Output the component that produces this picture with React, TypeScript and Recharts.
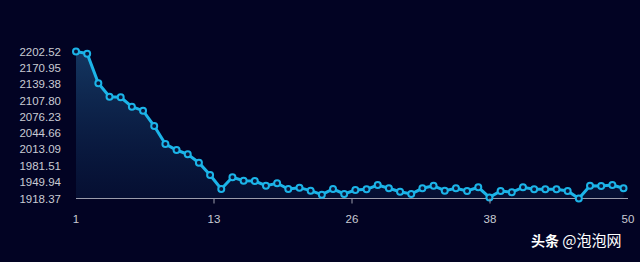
import { AreaChart, Area, XAxis, YAxis } from 'recharts'

// price series, one value per step 1..50
const values = [
  2202.52, 2198.4, 2141.1, 2115.2, 2114.0, 2095.8, 2088.1, 2058.5, 2023.7, 2012.1,
  2003.8, 1987.6, 1963.8, 1936.7, 1959.4, 1952.8, 1952.2, 1943.1, 1947.8, 1936.7,
  1939.3, 1933.5, 1925.7, 1936.7, 1927.1, 1934.8, 1936.2, 1944.5, 1938.1, 1931.5,
  1927.1, 1938.1, 1943.1, 1933.5, 1938.1, 1932.9, 1940.0, 1920.5, 1932.9, 1930.4,
  1940.0, 1936.2, 1936.2, 1936.2, 1932.9, 1918.37, 1943.1, 1942.5, 1944.5, 1938.1,
]

const yTicks = [
  1918.37, 1949.94, 1981.51, 2013.09, 2044.66, 2076.23, 2107.8, 2139.38, 2170.95, 2202.52,
]
const yTickLabels = [
  '1918.37', '1949.94', '1981.51', '2013.09', '2044.66', '2076.23', '2107.80', '2139.38', '2170.95', '2202.52',
]

// x axis is split into 4 even intervals; labels are the rounded values
const xDomain = [1, 50.4]
const xTicks = [1, 13.35, 25.7, 38.05, 50.4]
const xTickLabels = ['1', '13', '26', '38', '50']

const data = values.map((v, i) => ({ x: i + 1, value: v }))

const lineColor = '#1cb4e8'
const labelColor = '#c9cbd3'
const fontFamily = '"Liberation Sans", Arial, sans-serif'

const XTick = ({ x, y, index }: any) => {
  const inner = index > 0 && index < xTicks.length - 1
  return (
    <g transform={`translate(${x},${y})`}>
      {inner && <line x1={0} y1={0} x2={0} y2={5} stroke="#9a9cab" strokeWidth={1} />}
      <text
        x={0}
        y={0}
        dy={24.5}
        textAnchor="middle"
        fill={labelColor}
        fontSize={11.5}
        fontFamily={fontFamily}
      >
        {xTickLabels[index]}
      </text>
    </g>
  )
}

const YTick = ({ x, y, index }: any) => (
  <text
    x={x}
    y={y}
    dy={4}
    textAnchor="end"
    fill={labelColor}
    fontSize={11.5}
    fontFamily={fontFamily}
  >
    {yTickLabels[index]}
  </text>
)

export default function App() {
  return (
    <div
      style={{
        position: 'fixed',
        left: 0,
        top: 0,
        width: 640,
        height: 262,
        background: '#020323',
        overflow: 'hidden',
      }}
    >
      <AreaChart
        width={640}
        height={262}
        data={data}
        margin={{ top: 51.5, right: 12, left: 0, bottom: 0 }}
      >
        <defs>
          <linearGradient id="priceFill" x1="0" y1="0" x2="0" y2="1">
            <stop offset="0%" stopColor="#1b4a78" stopOpacity={0.72} />
            <stop offset="100%" stopColor="#0e2a55" stopOpacity={0.3} />
          </linearGradient>
        </defs>
        <XAxis
          dataKey="x"
          type="number"
          domain={xDomain}
          ticks={xTicks}
          interval={0}
          height={63.5}
          tickSize={0}
          tickMargin={0}
          tickLine={false}
          axisLine={{ stroke: '#9a9cab', strokeWidth: 1 }}
          tick={<XTick />}
        />
        <YAxis
          type="number"
          domain={[yTicks[0], yTicks[yTicks.length - 1]]}
          ticks={yTicks}
          interval={0}
          width={76}
          tickSize={0}
          tickMargin={15}
          axisLine={false}
          tickLine={false}
          tick={<YTick />}
        />
        <Area
          type="linear"
          dataKey="value"
          stroke={lineColor}
          strokeWidth={3}
          fill="url(#priceFill)"
          fillOpacity={1}
          dot={{ r: 3, stroke: lineColor, strokeWidth: 2, fill: '#0a1438', fillOpacity: 1 }}
          activeDot={false}
          isAnimationActive={false}
        />
      </AreaChart>
      <div
        style={{
          position: 'absolute',
          left: 531,
          top: 230,
          color: '#ffffff',
          fontSize: 15,
          lineHeight: '20px',
          fontFamily: '"Noto Sans CJK SC", sans-serif',
          whiteSpace: 'nowrap',
        }}
      >
        <span style={{ fontWeight: 700, fontSize: 14 }}>头条</span> @泡泡网
      </div>
    </div>
  )
}
